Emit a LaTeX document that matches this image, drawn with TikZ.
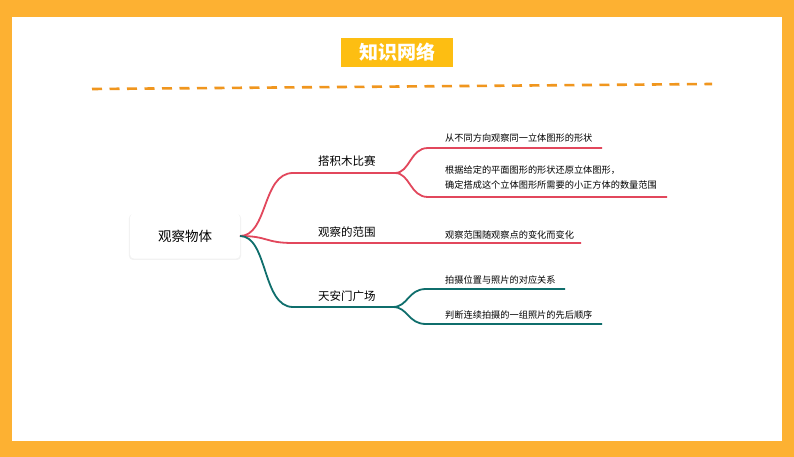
\documentclass[tikz,border=0pt]{standalone}
\usepackage{fontspec}
\setmainfont{Noto Sans CJK SC}
\usetikzlibrary{shadows}
\definecolor{frame}{HTML}{FDB132}
\definecolor{titlebg}{HTML}{FDBE12}
\definecolor{dashcol}{HTML}{F0961E}
\definecolor{redb}{HTML}{E2475C}
\definecolor{tealb}{HTML}{0F6E6C}
\tikzset{
  branchtxt/.style={font=\fontsize{11.5}{13}\selectfont, inner sep=0pt, anchor=base west},
  leaftxt/.style={font=\fontsize{9.2}{15}\selectfont, inner sep=0pt, anchor=base west, align=left},
  redline/.style={draw=redb, line width=1.8pt},
  tealline/.style={draw=tealb, line width=1.8pt},
}
\begin{document}
\begin{tikzpicture}[x=1pt,y=-1pt]
\useasboundingbox (0,0) rectangle (794,457);
\fill[frame] (0,0) rectangle (794,457);
\fill[white] (12,17) rectangle (782,441);
% title
\node[fill=titlebg, minimum width=112pt, minimum height=29pt, inner sep=0pt, text=white, font=\fontsize{19}{21}\selectfont\bfseries] (title) at (397,52.5) {知识网络};
% dashed line
\coordinate (d1) at (92,89);
\coordinate (d2) at (712,84);
\draw[dashcol, line width=2.6pt, dash pattern=on 10pt off 7.5pt] (d1) -- (d2);
% root
\node[fill=white, rounded corners=4pt, minimum width=110pt, minimum height=45pt, inner sep=0pt,
  drop shadow={shadow xshift=0pt, shadow yshift=-1pt, shadow scale=1.02, opacity=0.10, fill=black!50},
  font=\fontsize{13.5}{15}\selectfont] (root) at (185,236) {观察物体};
\coordinate (r) at (240,236);
% branch points
\coordinate (b1s) at (293,173); \coordinate (b1e) at (395,173);
\coordinate (b2s) at (293,243); \coordinate (b2e) at (581,243);
\coordinate (b3s) at (293,307); \coordinate (b3e) at (393,307);
\draw[redline] (r) .. controls (268,236) and (262,173) .. (b1s) -- (b1e);
\draw[redline] (r) .. controls (268,236) and (265,243) .. (b2s) -- (b2e);
\draw[tealline] (r) .. controls (268,236) and (262,307) .. (b3s) -- (b3e);
% sub leaves
\coordinate (l1s) at (428,148); \coordinate (l1e) at (602,148);
\coordinate (l2s) at (428,197); \coordinate (l2e) at (667,197);
\coordinate (l3s) at (426,289); \coordinate (l3e) at (565,289);
\coordinate (l4s) at (426,324); \coordinate (l4e) at (602,324);
\draw[redline] (b1e) .. controls (410,173) and (410,148) .. (l1s) -- (l1e);
\draw[redline] (b1e) .. controls (410,173) and (410,197) .. (l2s) -- (l2e);
\draw[tealline] (b3e) .. controls (408,307) and (408,289) .. (l3s) -- (l3e);
\draw[tealline] (b3e) .. controls (408,307) and (408,324) .. (l4s) -- (l4e);
% labels
\node[branchtxt] (t1) at (318,166) {搭积木比赛};
\node[branchtxt] (t2) at (318,236) {观察的范围};
\node[branchtxt] (t3) at (318,300) {天安门广场};
\node[leaftxt] (s1) at (445,142) {从不同方向观察同一立体图形的形状};
\node[leaftxt, anchor=north west] (s2) at (445,166) {根据给定的平面图形的形状还原立体图形，\\确定搭成这个立体图形所需要的小正方体的数量范围};
\node[leaftxt] (s3) at (445,238) {观察范围随观察点的变化而变化};
\node[leaftxt] (s4) at (445,283) {拍摄位置与照片的对应关系};
\node[leaftxt] (s5) at (445,318) {判断连续拍摄的一组照片的先后顺序};
\end{tikzpicture}
\end{document}
